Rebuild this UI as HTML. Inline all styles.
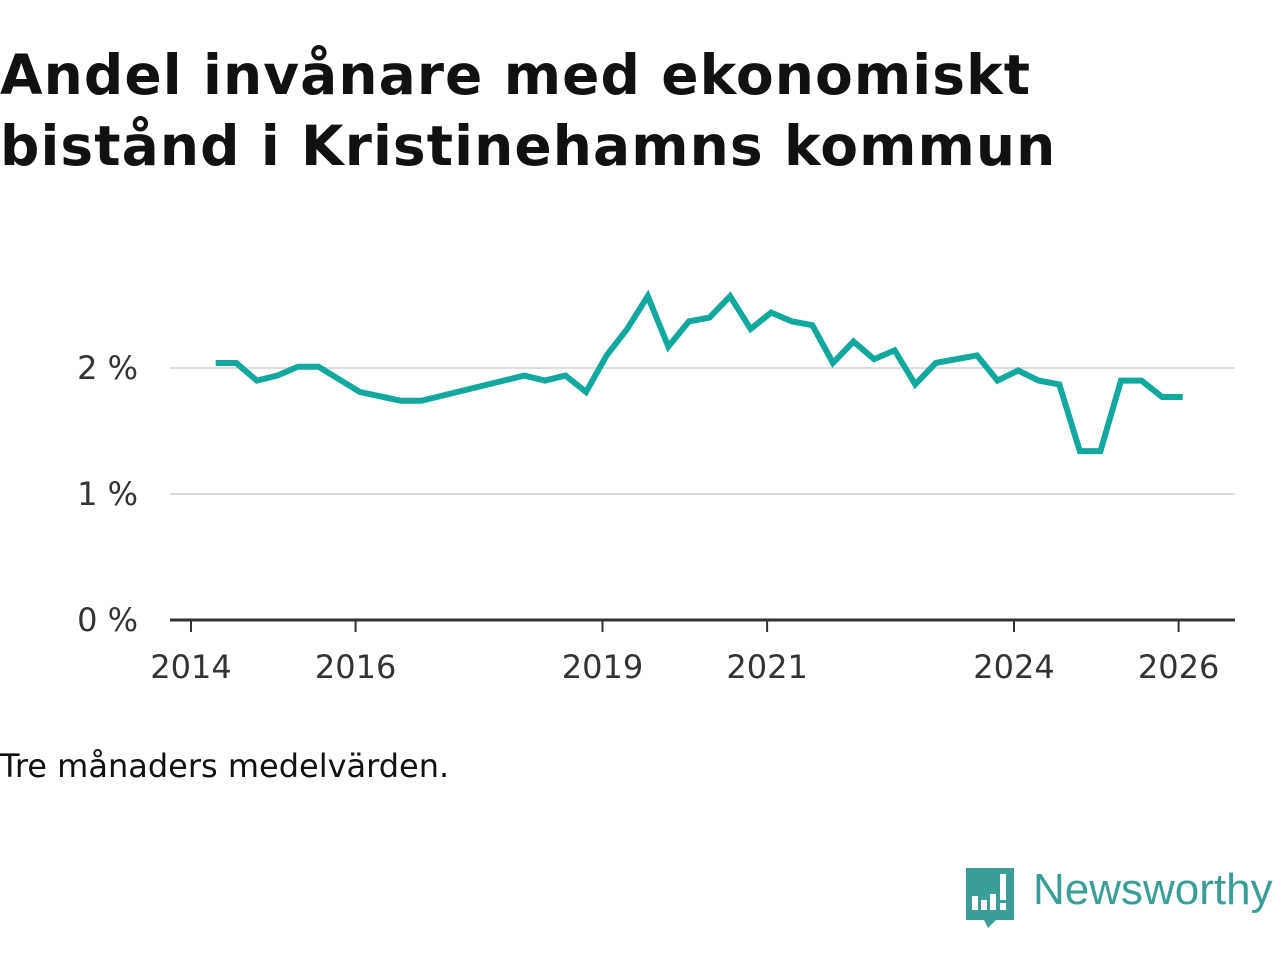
<!DOCTYPE html>
<html><head><meta charset="utf-8"><style>
body{margin:0;width:1280px;height:960px;background:#fff;font-family:"Liberation Sans",sans-serif;overflow:hidden;position:relative}
h1{position:absolute;left:0;top:40px;margin:0;font-family:"DejaVu Sans",sans-serif;font-size:55px;line-height:71px;font-weight:bold;color:#111;letter-spacing:1.1px;white-space:nowrap}
.note{position:absolute;left:0;top:747px;font-family:"DejaVu Sans",sans-serif;font-size:32px;color:#111}
svg{position:absolute;left:0;top:0}
</style></head><body>
<h1>Andel invånare med ekonomiskt<br>bistånd i Kristinehamns kommun</h1>
<svg id="chart" width="1280" height="960" style="font-family:'DejaVu Sans',sans-serif"></svg>
<div class="note">Tre månaders medelvärden.</div>
<svg width="1280" height="960" style="pointer-events:none">
<path d="M966 868h48v52h-18l-8 8l-4-8h-18z" fill="#3a9e97"/>
<rect x="972" y="896" width="6" height="14" fill="#fff"/><rect x="981" y="900" width="6" height="10" fill="#fff"/><rect x="990" y="894" width="6" height="16" fill="#fff"/><rect x="1000" y="874" width="6" height="26" fill="#fff"/><rect x="1000" y="903" width="6" height="7" fill="#fff"/>
<text x="1033" y="904" font-size="44" fill="#3a9e97" font-family="Liberation Sans, sans-serif">Newsworthy</text>
</svg>
<script>
const dates=[0,1,2,3,4,5,7,9,10,15,16,17,18,19,20,21,22,23,24,25,26,27,28,29,30,31,32,33,34,35,37,38,39,40,41,42,43,44,45,46,47];
const values=[2.04,2.04,1.90,1.94,2.01,2.01,1.81,1.74,1.74,1.94,1.90,1.94,1.81,2.10,2.31,2.57,2.17,2.37,2.40,2.57,2.31,2.44,2.37,2.34,2.04,2.21,2.07,2.14,1.87,2.04,2.10,1.90,1.98,1.90,1.87,1.34,1.34,1.90,1.90,1.77,1.77];
const yTicks=[0,1,2];
const xTicks=[2014,2016,2019,2021,2024,2026];
const NS='http://www.w3.org/2000/svg';
const svg=document.getElementById('chart');
const x=yr=>191+(yr-2014)*82.3;
const qx=k=>x(2014.3+k*0.25);
const y=v=>620-v*126;
function mk(t,a){const e=document.createElementNS(NS,t);for(const k in a)e.setAttribute(k,a[k]);svg.appendChild(e);return e;}
yTicks.forEach(v=>{
  if(v>0){const g=mk('line',{x1:170,x2:1235,y1:y(v),y2:y(v),stroke:'#ddd','stroke-width':2});
  
  }
  const t=mk('text',{x:138,y:y(v)+11,'font-size':32,fill:'#333','text-anchor':'end'});t.textContent=v+' %';
  
  
});
const ax=mk('line',{x1:170,x2:1235,y1:620,y2:620,stroke:'#333','stroke-width':3});


xTicks.forEach(yr=>{
  const tk=mk('line',{x1:x(yr),x2:x(yr),y1:620,y2:632,stroke:'#333','stroke-width':2});
  
  
  const t=mk('text',{x:x(yr),y:678,'font-size':32,fill:'#333','text-anchor':'middle'});t.textContent=yr;
  
  
});
const pts=dates.map((d,i)=>qx(d)+','+y(values[i])).join(' ');
const pl=mk('polyline',{points:pts,fill:'none',stroke:'#13a89e','stroke-width':6,'stroke-linejoin':'miter'});


</script>
</body></html>
